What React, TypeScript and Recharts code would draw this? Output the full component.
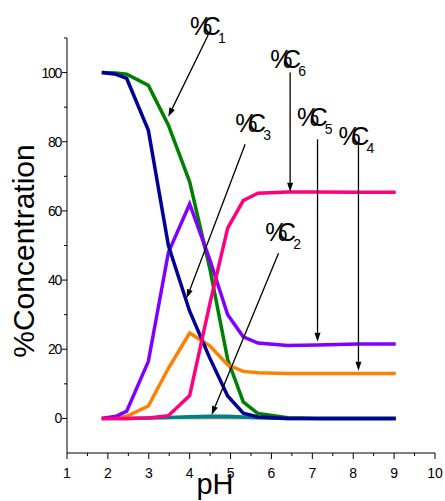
import React from 'react';
import { LineChart, Line, XAxis, YAxis, ReferenceLine, ReferenceDot } from 'recharts';

// pH values
const ph = [1.85, 2.2, 2.46, 2.99, 3.48, 4.0, 4.49, 4.93, 5.31, 5.67, 6.4, 7.13, 8.1, 9.04];
// species concentrations (%)
const c0 = [0, 0, 0, 0, 0, 0, 0, 0, 0, 0, 0, 0, 0, 0];
const c1 = [100, 99.9, 99.5, 96.3, 84.8, 68.4, 43.5, 17, 4.8, 1.4, 0.2, 0, 0, 0];
const c2 = [0, 0, 0, 0.1, 0.3, 0.5, 0.6, 0.6, 0.4, 0.2, 0, 0, 0, 0];
const c3 = [100, 99.5, 98.3, 83.3, 50, 31, 17.5, 6.5, 1.5, 0.4, 0, 0, 0, 0];
const c4 = [0, 0.1, 0.6, 3.6, 14.5, 24.7, 21, 15.5, 13.6, 13.2, 13, 13, 13, 13];
const c5 = [0, 0.6, 2.1, 16.5, 48, 62, 46, 30, 23.6, 21.8, 21.1, 21.2, 21.5, 21.5];
const c6 = [0, 0, 0, 0.1, 0.8, 6.6, 33, 55, 63, 65.1, 65.5, 65.5, 65.4, 65.4];

const xTicks = [1, 1.5, 2, 2.5, 3, 3.5, 4, 4.5, 5, 5.5, 6, 6.5, 7, 7.5, 8, 8.5, 9, 9.5, 10];
const yTicks = [0, 10, 20, 30, 40, 50, 60, 70, 80, 90, 100, 110];

// annotation labels and arrows (data coordinates)
const annoNames = ['1', '6', '3', '5', '4', '2'];
const annoTextX = [4.047, 6.01, 5.154, 6.662, 7.679, 5.888];
const annoTextY = [110.87, 101.24, 82.9, 84.55, 79.06, 51.38];
const arrowX1 = [4.453, 6.457, 5.357, 7.127, 8.128, 6.173];
const arrowY1 = [110.87, 100, 79.26, 80.71, 79.64, 47.74];
const arrowX2 = [3.476, 6.457, 3.925, 7.127, 8.128, 4.536];
const arrowY2 = [87.24, 65.55, 34.73, 22.17, 13.79, 0.98];

const data = ph.map((p, i) => ({
  ph: p, c0: c0[i], c1: c1[i], c2: c2[i], c3: c3[i], c4: c4[i], c5: c5[i], c6: c6[i],
}));

const FONT = '"Liberation Sans", Arial, sans-serif';

const XTick = (props: any) => {
  const { x, y, payload } = props;
  const v = payload.value;
  const major = Math.abs(v - Math.round(v)) < 1e-6;
  return (
    <g>
      <line x1={x} y1={y} x2={x} y2={y + (major ? 6 : 3)} stroke="#000" strokeWidth={1} />
      {major && (
        <text x={x} y={y + 25} textAnchor="middle" fontSize={14} fontFamily={FONT} fill="#000">
          {v}
        </text>
      )}
    </g>
  );
};

const YTick = (props: any) => {
  const { x, y, payload } = props;
  const v = payload.value;
  const major = v % 20 === 0;
  return (
    <g>
      <line x1={x - (major ? 5 : 3)} y1={y} x2={x} y2={y} stroke="#000" strokeWidth={1} />
      {major && (
        <text x={x - 6} y={y + 5} textAnchor="end" fontSize={14} letterSpacing={-1.3} fontFamily={FONT} fill="#000">
          {v}
        </text>
      )}
    </g>
  );
};

const Arrow = (props: any) => {
  const { x1, y1, x2, y2 } = props;
  const dx = x2 - x1;
  const dy = y2 - y1;
  const len = Math.sqrt(dx * dx + dy * dy) || 1;
  const ux = dx / len;
  const uy = dy / len;
  const hl = 9;
  const hw = 3;
  const bx = x2 - ux * hl;
  const by = y2 - uy * hl;
  const pts = `${x2},${y2} ${bx - uy * hw},${by + ux * hw} ${bx + uy * hw},${by - ux * hw}`;
  return (
    <g>
      <line x1={x1} y1={y1} x2={bx} y2={by} stroke="#000" strokeWidth={1.3} />
      <polygon points={pts} fill="#000" />
    </g>
  );
};

const makeLabel = (name: string) => (props: any) => {
  const { cx, cy } = props;
  return (
    <text x={cx - 1.5} y={cy} fontFamily={FONT} fontSize={25} fill="#000">
      <tspan letterSpacing={-9.5}>%</tspan>
      <tspan>C</tspan>
      <tspan fontSize={14} dy={8} dx={-3}>{name}</tspan>
    </text>
  );
};

export default function App() {
  return (
    <div style={{ width: 445, height: 501, background: '#fff' }}>
      <style>{`body{margin:0;overflow:hidden;background:#fff}`}</style>
      <LineChart width={445} height={501} data={data} margin={{ top: 38, right: 10, left: 0, bottom: 0 }}>
        <XAxis
          dataKey="ph"
          type="number"
          domain={[1, 10]}
          ticks={xTicks}
          interval={0}
          tickSize={0}
          tickMargin={0}
          height={48}
          stroke="#000"
          tick={<XTick />}
          label={{
            value: 'pH',
            content: (p: any) => {
              const vb = p.viewBox || { x: 67, y: 453 };
              return (
                <text x={vb.x + 148} y={vb.y + 41} textAnchor="middle" fontSize={29} fontFamily={FONT} fill="#000">
                  pH
                </text>
              );
            },
          }}
        />
        <YAxis
          type="number"
          domain={[-10, 110]}
          ticks={yTicks}
          interval={0}
          tickSize={0}
          tickMargin={0}
          width={67}
          stroke="#000"
          tick={<YTick />}
          label={{
            value: '%Concentration',
            content: (p: any) => {
              const vb = p.viewBox || { x: 0, y: 38 };
              const cx = vb.x + 34;
              const cy = vb.y + 213;
              return (
                <text x={cx} y={cy} transform={`rotate(-90, ${cx}, ${cy})`} textAnchor="middle" fontSize={30} fontFamily={FONT} fill="#000">
                  %Concentration
                </text>
              );
            },
          }}
        />
        <Line type="linear" dataKey="c0" stroke="#808080" strokeWidth={1.5} dot={false} isAnimationActive={false} />
        <Line type="linear" dataKey="c2" stroke="#008080" strokeWidth={3.5} dot={false} isAnimationActive={false} />
        <Line type="linear" dataKey="c1" stroke="#008000" strokeWidth={3.5} dot={false} isAnimationActive={false} />
        <Line type="linear" dataKey="c4" stroke="#FF8000" strokeWidth={3.5} dot={false} isAnimationActive={false} />
        <Line type="linear" dataKey="c5" stroke="#8000FF" strokeWidth={3.5} dot={false} isAnimationActive={false} />
        <Line type="linear" dataKey="c3" stroke="#000099" strokeWidth={3.5} dot={false} isAnimationActive={false} />
        <Line type="linear" dataKey="c6" stroke="#FF0080" strokeWidth={3.5} dot={false} isAnimationActive={false} />
        {annoNames.map((n, i) => (
          <ReferenceLine
            key={'a' + n}
            segment={[{ x: arrowX1[i], y: arrowY1[i] }, { x: arrowX2[i], y: arrowY2[i] }]}
            ifOverflow="visible"
            stroke="#000"
            shape={(p: any) => <Arrow {...p} />}
          />
        ))}
        {annoNames.map((n, i) => (
          <ReferenceDot
            key={'t' + n}
            x={annoTextX[i]}
            y={annoTextY[i]}
            r={0}
            ifOverflow="visible"
            shape={makeLabel(n)}
          />
        ))}
      </LineChart>
    </div>
  );
}
